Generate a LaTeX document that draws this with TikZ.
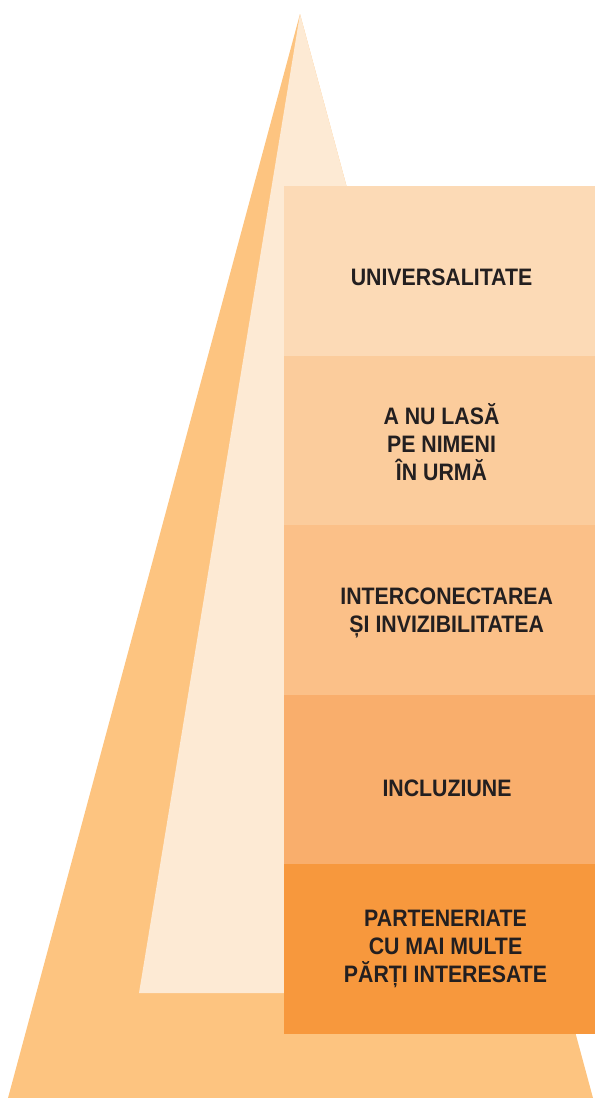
\documentclass[tikz,border=0pt]{standalone}
\usepackage{fontspec}
\newfontfamily\labfont[FakeStretch=0.895]{Liberation Sans}
\definecolor{outerc}{RGB}{253,196,128}
\definecolor{innerc}{RGB}{253,234,212}
\definecolor{rowa}{RGB}{252,218,182}
\definecolor{rowb}{RGB}{251,204,156}
\definecolor{rowc}{RGB}{251,192,136}
\definecolor{rowd}{RGB}{249,174,108}
\definecolor{rowe}{RGB}{247,152,61}
\definecolor{txt}{RGB}{35,31,32}
\tikzset{
  rowbox/.style={draw=none, anchor=north west, minimum width=311pt, minimum height=169.6pt, inner sep=0pt, outer sep=0pt},
  lab/.style={anchor=base, align=center, inner sep=0pt, text=txt,
    font=\labfont\bfseries\fontsize{23.8pt}{28pt}\selectfont}
}
\begin{document}
\begin{tikzpicture}[x=1pt,y=-1pt]
\useasboundingbox (0,0) rectangle (595,1098);
% pyramid shapes
\coordinate (apex) at (300,14);
\coordinate (outl) at (8,1098);
\coordinate (outr) at (593,1098);
\coordinate (innl) at (139,993);
\coordinate (innr) at (564.6,993);
\fill[outerc] (apex) -- (outl) -- (outr) -- cycle;
\fill[innerc] (apex) -- (innl) -- (innr) -- cycle;
% boxes
\node[rowbox, fill=rowa] (b1) at (284,186) {};
\node[rowbox, fill=rowb] (b2) at (284,355.6) {};
\node[rowbox, fill=rowc] (b3) at (284,525.2) {};
\node[rowbox, fill=rowd] (b4) at (284,694.8) {};
\node[rowbox, fill=rowe] (b5) at (284,864.4) {};
% labels (base anchor = baseline of the last line)
\node[lab] (t1) at (441.5,285) {UNIVERSALITATE};
\node[lab] (t2) at (441.5,480.5) {A NU LASĂ\\PE NIMENI\\ÎN URMĂ};
\node[lab] (t3) at (446.7,632.8) {INTERCONECTAREA\\ȘI INVIZIBILITATEA};
\node[lab] (t4) at (447,796) {INCLUZIUNE};
\node[lab] (t5) at (445.5,982.7) {PARTENERIATE\\CU MAI MULTE\\PĂRȚI INTERESATE};
\end{tikzpicture}
\end{document}
